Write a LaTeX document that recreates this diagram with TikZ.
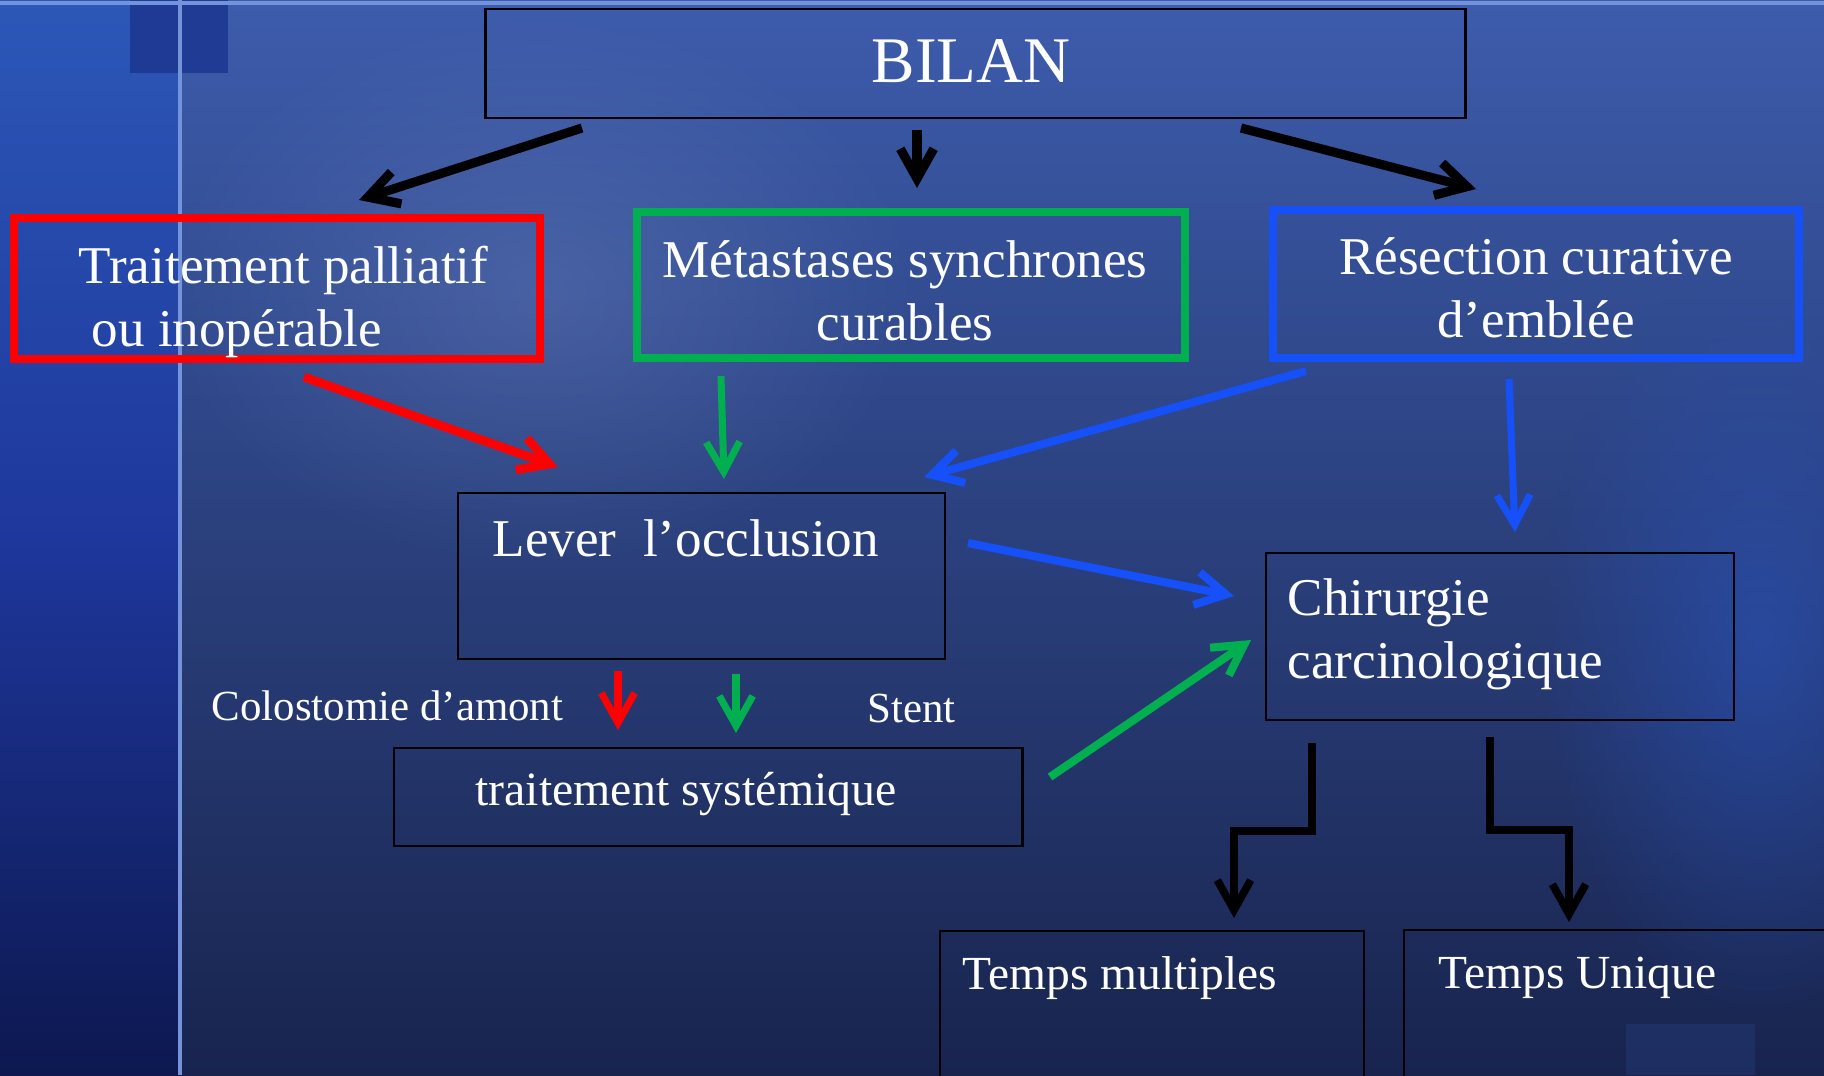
\documentclass[tikz,border=0pt]{standalone}
\usepackage{fontspec}
\setmainfont{Liberation Serif}
\usetikzlibrary{arrows.meta,fadings}
\definecolor{bgtop}{HTML}{3D5CAC}
\definecolor{bgbot}{HTML}{18244E}
\definecolor{glowgrey}{HTML}{6880BC}
\definecolor{glowblue}{HTML}{2A52B8}
\definecolor{striptop}{HTML}{2C58B8}
\definecolor{stripmid}{HTML}{1E379C}
\definecolor{stripbot}{HTML}{0D1850}
\definecolor{squareblue}{HTML}{1C3690}
\definecolor{faintblue}{HTML}{2A4590}
\definecolor{stripe}{HTML}{7393DA}
\definecolor{boxred}{HTML}{FF0000}
\definecolor{boxgreen}{HTML}{00B050}
\definecolor{boxblue}{HTML}{1550F8}
\tikzfading[name=softglow, inner color=transparent!0, outer color=transparent!100]

\begin{document}
\begin{tikzpicture}[x=0.01cm, y=-0.01cm,
    >={Straight Barb[length=8.5pt,width=9.5pt]},
    frame/.style={draw=black, line width=0.75pt, inner sep=0pt},
    thickframe/.style={line width=2.2pt, inner sep=0pt},
    txt/.style={text=white, inner sep=0pt},
    bigfont/.style={font=\fontsize{18.5}{22}\selectfont},
    mainfont/.style={font=\fontsize{15.1}{17.9}\selectfont},
    subfont/.style={font=\fontsize{13.5}{16}\selectfont},
    smallfont/.style={font=\fontsize{12.2}{14}\selectfont}]
    \useasboundingbox (0,0) rectangle (1824,1075);
    % background
    \shade[top color=bgtop, bottom color=bgbot] (0,0) rectangle (1824,1075);
    \fill[glowgrey, path fading=softglow, opacity=0.4] (540,290) ellipse (380 and 280);
    \fill[glowblue, path fading=softglow, opacity=0.6] (1760,640) ellipse (220 and 380);
    \shade[top color=striptop, bottom color=stripbot, middle color=stripmid] (0,0) rectangle (180,1075);
    \fill[squareblue, opacity=0.85] (130,0) rectangle (228,73);
    \draw[stripe, line width=1.1pt] (180,0) -- (180,1075);
    \draw[stripe, line width=1pt] (0,3) -- (1824,3);
    \fill[faintblue, opacity=0.3] (1626,1024) rectangle (1755,1075);

    % boxes
    \node[frame, minimum width=9.79cm, minimum height=1.09cm] (bilan) at (975.5,63.5) {};
    \node[thickframe, draw=boxred, minimum width=5.255cm, minimum height=1.41cm] (palliatif) at (277,288.5) {};
    \node[thickframe, draw=boxgreen, minimum width=5.48cm, minimum height=1.46cm] (metastases) at (911,285) {};
    \node[thickframe, draw=boxblue, minimum width=5.26cm, minimum height=1.48cm] (resection) at (1536,284) {};
    \node[frame, minimum width=4.87cm, minimum height=1.66cm] (lever) at (701.5,576) {};
    \node[frame, minimum width=4.68cm, minimum height=1.67cm] (chirurgie) at (1500,636.5) {};
    \node[frame, minimum width=6.28cm, minimum height=0.98cm] (systemique) at (708,797) {};
    \node[frame, minimum width=4.24cm, minimum height=1.6cm] (multiples) at (1152,1011) {};
    \node[frame, minimum width=4.36cm, minimum height=1.6cm] (unique) at (1622,1010) {};

    % texts (base = last line)
    \node[txt, bigfont, anchor=base] (bilantxt) at (971,82) {BILAN};
    \node[txt, mainfont, align=left, anchor=base west] (palliatiftxt) at (78,346)
        {Traitement palliatif\\\hspace*{3.7pt}ou inopérable};
    \node[txt, mainfont, align=center, anchor=base] (metastasestxt) at (905,340)
        {Métastases synchrones\\curables};
    \node[txt, mainfont, align=center, anchor=base] (resectiontxt) at (1536,337.5)
        {Résection curative\\d’emblée};
    \node[txt, mainfont, anchor=base west] (levertxt) at (492,556) {Lever\ \ l’occlusion};
    \node[txt, mainfont, align=left, anchor=base west] (chirurgietxt) at (1287,678)
        {Chirurgie\\carcinologique};
    \node[txt, font=\fontsize{13.6}{16}\selectfont, anchor=base] (systemiquetxt) at (686,805.5) {traitement systémique};
    \node[txt, subfont, anchor=base west] (multiplestxt) at (962,989) {Temps multiples};
    \node[txt, subfont, anchor=base west] (uniquetxt) at (1438,988) {Temps Unique};
    \node[txt, smallfont, anchor=base west] (colostomie) at (211,720) {Colostomie d’amont};
    \node[txt, smallfont, anchor=base west] (stent) at (867,722) {Stent};

    % arrow ends
    \coordinate (b1s) at (582,128);  \coordinate (b1e) at (359,200);
    \coordinate (b2s) at (917,130);  \coordinate (b2e) at (917,188);
    \coordinate (b3s) at (1241,128); \coordinate (b3e) at (1476,189);
    \coordinate (r1s) at (304,377);  \coordinate (r1e) at (558,467);
    \coordinate (g1s) at (721,376);  \coordinate (g1e) at (724,479);
    \coordinate (u1s) at (1306,371); \coordinate (u1e) at (924,477);
    \coordinate (u2s) at (1509,379); \coordinate (u2e) at (1515,532);
    \coordinate (u3s) at (968,543);  \coordinate (u3e) at (1234,596);
    \coordinate (g2s) at (1050,777); \coordinate (g2e) at (1251,640);
    \coordinate (r2s) at (618,671);  \coordinate (r2e) at (618,730);
    \coordinate (g3s) at (736,674);  \coordinate (g3e) at (736,733);
    \coordinate (e1s) at (1312,743); \coordinate (e1k) at (1234,831); \coordinate (e1e) at (1234,918);
    \coordinate (e2s) at (1490,737); \coordinate (e2k) at (1569,830); \coordinate (e2e) at (1569,922);

    % arrows
    \draw[->, line width=2.6pt] (b1s) -- (b1e);
    \draw[->, line width=2.6pt] (b2s) -- (b2e);
    \draw[->, line width=2.6pt] (b3s) -- (b3e);
    \draw[->, boxred, line width=2.5pt] (r1s) -- (r1e);
    \draw[->, boxgreen, line width=2pt] (g1s) -- (g1e);
    \draw[->, boxblue, line width=2.3pt] (u1s) -- (u1e);
    \draw[->, boxblue, line width=2pt] (u2s) -- (u2e);
    \draw[->, boxblue, line width=2.3pt] (u3s) -- (u3e);
    \draw[->, boxgreen, line width=2.3pt] (g2s) -- (g2e);
    \draw[->, boxred, line width=2pt] (r2s) -- (r2e);
    \draw[->, boxgreen, line width=2pt] (g3s) -- (g3e);
    \draw[->, line width=2.2pt, line join=miter] (e1s) |- (e1k) -- (e1e);
    \draw[->, line width=2.2pt, line join=miter] (e2s) |- (e2k) -- (e2e);
\end{tikzpicture}
\end{document}
